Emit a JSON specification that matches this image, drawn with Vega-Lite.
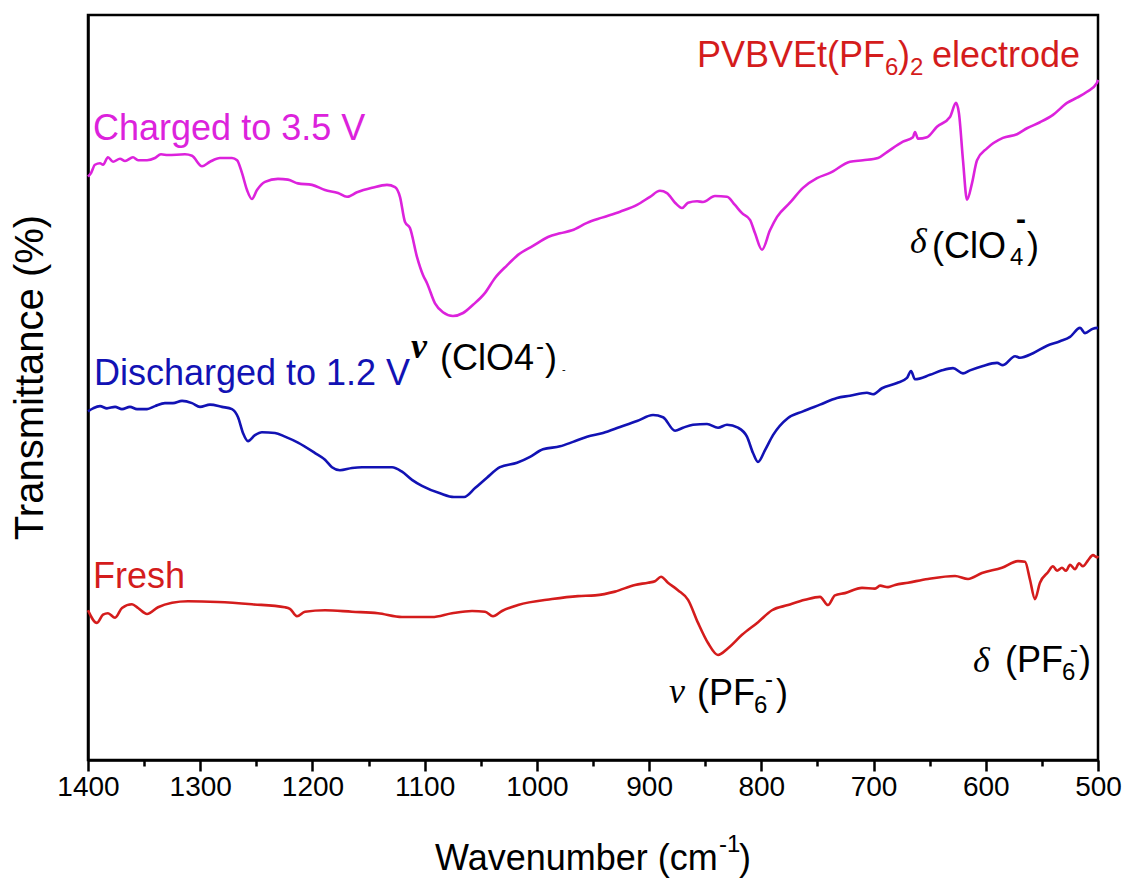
{
  "$schema": "https://vega.github.io/schema/vega-lite/v6.json",
  "width": 1010,
  "height": 745,
  "autosize": {"type": "none"},
  "padding": {"left": 88, "top": 15, "right": 30, "bottom": 126},
  "background": "white",
  "config": {
    "view": {"stroke": "black", "strokeWidth": 2.5},
    "font": "Liberation Sans"
  },
  "datasets": {
    "spectra": [
      {"series": "Charged", "wn": 1400.0, "T": 78.3},
      {"series": "Charged", "wn": 1397.3, "T": 78.8},
      {"series": "Charged", "wn": 1393.8, "T": 79.9},
      {"series": "Charged", "wn": 1389.3, "T": 80.1},
      {"series": "Charged", "wn": 1386.6, "T": 79.9},
      {"series": "Charged", "wn": 1382.2, "T": 80.9},
      {"series": "Charged", "wn": 1377.7, "T": 80.3},
      {"series": "Charged", "wn": 1371.5, "T": 80.7},
      {"series": "Charged", "wn": 1367.0, "T": 80.4},
      {"series": "Charged", "wn": 1359.9, "T": 80.9},
      {"series": "Charged", "wn": 1355.4, "T": 80.5},
      {"series": "Charged", "wn": 1347.4, "T": 80.5},
      {"series": "Charged", "wn": 1340.3, "T": 80.8},
      {"series": "Charged", "wn": 1335.0, "T": 81.3},
      {"series": "Charged", "wn": 1328.7, "T": 81.2},
      {"series": "Charged", "wn": 1313.6, "T": 81.3},
      {"series": "Charged", "wn": 1307.3, "T": 81.1},
      {"series": "Charged", "wn": 1298.4, "T": 79.7},
      {"series": "Charged", "wn": 1291.3, "T": 80.3},
      {"series": "Charged", "wn": 1282.4, "T": 80.8},
      {"series": "Charged", "wn": 1271.7, "T": 80.8},
      {"series": "Charged", "wn": 1267.2, "T": 80.5},
      {"series": "Charged", "wn": 1262.8, "T": 78.8},
      {"series": "Charged", "wn": 1258.3, "T": 76.5},
      {"series": "Charged", "wn": 1253.9, "T": 75.3},
      {"series": "Charged", "wn": 1249.4, "T": 76.5},
      {"series": "Charged", "wn": 1242.3, "T": 77.6},
      {"series": "Charged", "wn": 1230.7, "T": 78.0},
      {"series": "Charged", "wn": 1221.8, "T": 77.9},
      {"series": "Charged", "wn": 1212.9, "T": 77.4},
      {"series": "Charged", "wn": 1200.4, "T": 77.2},
      {"series": "Charged", "wn": 1188.8, "T": 76.5},
      {"series": "Charged", "wn": 1177.2, "T": 76.1},
      {"series": "Charged", "wn": 1169.2, "T": 75.6},
      {"series": "Charged", "wn": 1160.3, "T": 76.2},
      {"series": "Charged", "wn": 1146.9, "T": 76.8},
      {"series": "Charged", "wn": 1133.6, "T": 77.2},
      {"series": "Charged", "wn": 1126.4, "T": 76.9},
      {"series": "Charged", "wn": 1122.0, "T": 75.6},
      {"series": "Charged", "wn": 1117.5, "T": 72.2},
      {"series": "Charged", "wn": 1113.1, "T": 71.4},
      {"series": "Charged", "wn": 1106.8, "T": 67.5},
      {"series": "Charged", "wn": 1101.5, "T": 65.1},
      {"series": "Charged", "wn": 1097.9, "T": 64.0},
      {"series": "Charged", "wn": 1090.8, "T": 61.3},
      {"series": "Charged", "wn": 1083.7, "T": 60.1},
      {"series": "Charged", "wn": 1074.8, "T": 59.6},
      {"series": "Charged", "wn": 1065.8, "T": 60.0},
      {"series": "Charged", "wn": 1056.9, "T": 61.1},
      {"series": "Charged", "wn": 1046.2, "T": 62.7},
      {"series": "Charged", "wn": 1037.3, "T": 64.7},
      {"series": "Charged", "wn": 1026.6, "T": 66.4},
      {"series": "Charged", "wn": 1016.8, "T": 67.8},
      {"series": "Charged", "wn": 1003.5, "T": 69.0},
      {"series": "Charged", "wn": 990.1, "T": 70.2},
      {"series": "Charged", "wn": 979.4, "T": 70.7},
      {"series": "Charged", "wn": 968.7, "T": 71.1},
      {"series": "Charged", "wn": 955.3, "T": 72.1},
      {"series": "Charged", "wn": 942.0, "T": 72.8},
      {"series": "Charged", "wn": 925.9, "T": 73.6},
      {"series": "Charged", "wn": 910.8, "T": 74.5},
      {"series": "Charged", "wn": 899.2, "T": 75.6},
      {"series": "Charged", "wn": 890.3, "T": 76.4},
      {"series": "Charged", "wn": 884.1, "T": 76.1},
      {"series": "Charged", "wn": 876.9, "T": 74.8},
      {"series": "Charged", "wn": 870.7, "T": 74.1},
      {"series": "Charged", "wn": 865.3, "T": 74.8},
      {"series": "Charged", "wn": 857.3, "T": 75.0},
      {"series": "Charged", "wn": 852.0, "T": 74.9},
      {"series": "Charged", "wn": 841.3, "T": 75.7},
      {"series": "Charged", "wn": 830.6, "T": 75.6},
      {"series": "Charged", "wn": 823.5, "T": 74.5},
      {"series": "Charged", "wn": 817.2, "T": 73.4},
      {"series": "Charged", "wn": 810.1, "T": 72.5},
      {"series": "Charged", "wn": 805.6, "T": 70.7},
      {"series": "Charged", "wn": 799.4, "T": 68.5},
      {"series": "Charged", "wn": 792.3, "T": 71.1},
      {"series": "Charged", "wn": 786.0, "T": 72.9},
      {"series": "Charged", "wn": 774.5, "T": 74.8},
      {"series": "Charged", "wn": 762.9, "T": 76.8},
      {"series": "Charged", "wn": 750.4, "T": 78.1},
      {"series": "Charged", "wn": 738.8, "T": 78.8},
      {"series": "Charged", "wn": 721.0, "T": 80.3},
      {"series": "Charged", "wn": 709.4, "T": 80.5},
      {"series": "Charged", "wn": 696.0, "T": 80.8},
      {"series": "Charged", "wn": 688.0, "T": 81.6},
      {"series": "Charged", "wn": 673.8, "T": 83.0},
      {"series": "Charged", "wn": 664.9, "T": 83.6},
      {"series": "Charged", "wn": 663.1, "T": 84.3},
      {"series": "Charged", "wn": 660.4, "T": 83.4},
      {"series": "Charged", "wn": 652.4, "T": 83.6},
      {"series": "Charged", "wn": 643.5, "T": 85.0},
      {"series": "Charged", "wn": 631.9, "T": 86.3},
      {"series": "Charged", "wn": 626.5, "T": 88.2},
      {"series": "Charged", "wn": 623.9, "T": 86.8},
      {"series": "Charged", "wn": 620.3, "T": 80.5},
      {"series": "Charged", "wn": 616.7, "T": 75.2},
      {"series": "Charged", "wn": 612.3, "T": 77.4},
      {"series": "Charged", "wn": 607.8, "T": 80.5},
      {"series": "Charged", "wn": 598.9, "T": 82.1},
      {"series": "Charged", "wn": 584.7, "T": 83.5},
      {"series": "Charged", "wn": 572.2, "T": 84.0},
      {"series": "Charged", "wn": 563.3, "T": 84.8},
      {"series": "Charged", "wn": 551.7, "T": 85.6},
      {"series": "Charged", "wn": 540.1, "T": 86.6},
      {"series": "Charged", "wn": 527.6, "T": 88.2},
      {"series": "Charged", "wn": 518.7, "T": 88.9},
      {"series": "Charged", "wn": 509.8, "T": 89.7},
      {"series": "Charged", "wn": 500.9, "T": 90.9},
      {"series": "Charged", "wn": 500.0, "T": 91.3},

      {"series": "Discharged", "wn": 1400.0, "T": 46.8},
      {"series": "Discharged", "wn": 1395.5, "T": 47.2},
      {"series": "Discharged", "wn": 1389.3, "T": 47.5},
      {"series": "Discharged", "wn": 1383.1, "T": 47.2},
      {"series": "Discharged", "wn": 1375.9, "T": 47.4},
      {"series": "Discharged", "wn": 1369.7, "T": 47.1},
      {"series": "Discharged", "wn": 1362.6, "T": 47.4},
      {"series": "Discharged", "wn": 1356.3, "T": 47.1},
      {"series": "Discharged", "wn": 1347.4, "T": 47.1},
      {"series": "Discharged", "wn": 1340.3, "T": 47.5},
      {"series": "Discharged", "wn": 1331.4, "T": 47.9},
      {"series": "Discharged", "wn": 1324.3, "T": 47.9},
      {"series": "Discharged", "wn": 1316.2, "T": 48.2},
      {"series": "Discharged", "wn": 1307.3, "T": 47.9},
      {"series": "Discharged", "wn": 1300.2, "T": 47.4},
      {"series": "Discharged", "wn": 1291.3, "T": 47.7},
      {"series": "Discharged", "wn": 1280.6, "T": 47.4},
      {"series": "Discharged", "wn": 1271.7, "T": 47.1},
      {"series": "Discharged", "wn": 1266.3, "T": 46.0},
      {"series": "Discharged", "wn": 1261.9, "T": 43.9},
      {"series": "Discharged", "wn": 1257.4, "T": 42.8},
      {"series": "Discharged", "wn": 1251.2, "T": 43.6},
      {"series": "Discharged", "wn": 1245.0, "T": 44.0},
      {"series": "Discharged", "wn": 1233.4, "T": 43.9},
      {"series": "Discharged", "wn": 1224.5, "T": 43.4},
      {"series": "Discharged", "wn": 1212.9, "T": 42.6},
      {"series": "Discharged", "wn": 1197.7, "T": 41.2},
      {"series": "Discharged", "wn": 1188.8, "T": 40.3},
      {"series": "Discharged", "wn": 1182.6, "T": 39.3},
      {"series": "Discharged", "wn": 1175.5, "T": 38.9},
      {"series": "Discharged", "wn": 1164.8, "T": 39.2},
      {"series": "Discharged", "wn": 1155.8, "T": 39.3},
      {"series": "Discharged", "wn": 1144.3, "T": 39.3},
      {"series": "Discharged", "wn": 1129.1, "T": 39.3},
      {"series": "Discharged", "wn": 1120.2, "T": 38.7},
      {"series": "Discharged", "wn": 1111.3, "T": 37.6},
      {"series": "Discharged", "wn": 1102.4, "T": 36.8},
      {"series": "Discharged", "wn": 1086.3, "T": 35.8},
      {"series": "Discharged", "wn": 1073.9, "T": 35.3},
      {"series": "Discharged", "wn": 1064.9, "T": 35.3},
      {"series": "Discharged", "wn": 1055.1, "T": 36.5},
      {"series": "Discharged", "wn": 1044.5, "T": 37.9},
      {"series": "Discharged", "wn": 1032.9, "T": 39.3},
      {"series": "Discharged", "wn": 1017.7, "T": 39.9},
      {"series": "Discharged", "wn": 1006.1, "T": 40.7},
      {"series": "Discharged", "wn": 994.6, "T": 41.7},
      {"series": "Discharged", "wn": 979.4, "T": 42.1},
      {"series": "Discharged", "wn": 967.8, "T": 42.7},
      {"series": "Discharged", "wn": 955.3, "T": 43.4},
      {"series": "Discharged", "wn": 941.1, "T": 43.9},
      {"series": "Discharged", "wn": 925.9, "T": 44.7},
      {"series": "Discharged", "wn": 910.8, "T": 45.5},
      {"series": "Discharged", "wn": 896.5, "T": 46.3},
      {"series": "Discharged", "wn": 887.6, "T": 46.0},
      {"series": "Discharged", "wn": 876.9, "T": 44.2},
      {"series": "Discharged", "wn": 869.8, "T": 44.6},
      {"series": "Discharged", "wn": 860.9, "T": 45.0},
      {"series": "Discharged", "wn": 848.4, "T": 45.1},
      {"series": "Discharged", "wn": 838.6, "T": 44.6},
      {"series": "Discharged", "wn": 830.6, "T": 45.0},
      {"series": "Discharged", "wn": 820.8, "T": 44.6},
      {"series": "Discharged", "wn": 812.8, "T": 43.4},
      {"series": "Discharged", "wn": 807.4, "T": 41.2},
      {"series": "Discharged", "wn": 803.0, "T": 40.0},
      {"series": "Discharged", "wn": 796.7, "T": 41.6},
      {"series": "Discharged", "wn": 789.6, "T": 43.6},
      {"series": "Discharged", "wn": 776.2, "T": 45.9},
      {"series": "Discharged", "wn": 762.9, "T": 46.8},
      {"series": "Discharged", "wn": 747.7, "T": 47.7},
      {"series": "Discharged", "wn": 732.6, "T": 48.6},
      {"series": "Discharged", "wn": 721.0, "T": 48.9},
      {"series": "Discharged", "wn": 705.9, "T": 49.3},
      {"series": "Discharged", "wn": 700.5, "T": 49.1},
      {"series": "Discharged", "wn": 692.5, "T": 49.9},
      {"series": "Discharged", "wn": 679.1, "T": 50.6},
      {"series": "Discharged", "wn": 670.2, "T": 51.3},
      {"series": "Discharged", "wn": 666.6, "T": 52.2},
      {"series": "Discharged", "wn": 663.1, "T": 51.1},
      {"series": "Discharged", "wn": 649.7, "T": 51.7},
      {"series": "Discharged", "wn": 639.0, "T": 52.3},
      {"series": "Discharged", "wn": 629.2, "T": 52.6},
      {"series": "Discharged", "wn": 620.3, "T": 51.9},
      {"series": "Discharged", "wn": 614.1, "T": 52.3},
      {"series": "Discharged", "wn": 602.5, "T": 52.9},
      {"series": "Discharged", "wn": 590.0, "T": 53.3},
      {"series": "Discharged", "wn": 584.7, "T": 53.0},
      {"series": "Discharged", "wn": 573.9, "T": 54.2},
      {"series": "Discharged", "wn": 569.5, "T": 54.0},
      {"series": "Discharged", "wn": 557.9, "T": 54.6},
      {"series": "Discharged", "wn": 545.4, "T": 55.6},
      {"series": "Discharged", "wn": 533.9, "T": 56.2},
      {"series": "Discharged", "wn": 524.9, "T": 56.8},
      {"series": "Discharged", "wn": 516.0, "T": 58.0},
      {"series": "Discharged", "wn": 511.6, "T": 57.3},
      {"series": "Discharged", "wn": 504.5, "T": 57.9},
      {"series": "Discharged", "wn": 500.0, "T": 58.0},

      {"series": "Fresh", "wn": 1400.0, "T": 20.1},
      {"series": "Fresh", "wn": 1392.0, "T": 18.4},
      {"series": "Fresh", "wn": 1386.6, "T": 19.5},
      {"series": "Fresh", "wn": 1382.2, "T": 19.7},
      {"series": "Fresh", "wn": 1375.9, "T": 19.1},
      {"series": "Fresh", "wn": 1369.7, "T": 20.4},
      {"series": "Fresh", "wn": 1360.8, "T": 20.9},
      {"series": "Fresh", "wn": 1355.4, "T": 20.4},
      {"series": "Fresh", "wn": 1347.4, "T": 19.6},
      {"series": "Fresh", "wn": 1337.6, "T": 20.5},
      {"series": "Fresh", "wn": 1325.1, "T": 21.1},
      {"series": "Fresh", "wn": 1310.9, "T": 21.3},
      {"series": "Fresh", "wn": 1284.2, "T": 21.2},
      {"series": "Fresh", "wn": 1253.9, "T": 20.9},
      {"series": "Fresh", "wn": 1224.5, "T": 20.5},
      {"series": "Fresh", "wn": 1220.1, "T": 20.3},
      {"series": "Fresh", "wn": 1213.8, "T": 19.3},
      {"series": "Fresh", "wn": 1206.6, "T": 19.9},
      {"series": "Fresh", "wn": 1188.8, "T": 20.1},
      {"series": "Fresh", "wn": 1164.8, "T": 19.9},
      {"series": "Fresh", "wn": 1141.6, "T": 19.7},
      {"series": "Fresh", "wn": 1120.2, "T": 19.2},
      {"series": "Fresh", "wn": 1093.5, "T": 19.2},
      {"series": "Fresh", "wn": 1075.6, "T": 19.7},
      {"series": "Fresh", "wn": 1057.8, "T": 20.0},
      {"series": "Fresh", "wn": 1046.2, "T": 19.9},
      {"series": "Fresh", "wn": 1039.1, "T": 19.3},
      {"series": "Fresh", "wn": 1031.1, "T": 20.0},
      {"series": "Fresh", "wn": 1016.8, "T": 20.8},
      {"series": "Fresh", "wn": 986.5, "T": 21.6},
      {"series": "Fresh", "wn": 963.4, "T": 22.0},
      {"series": "Fresh", "wn": 948.2, "T": 22.1},
      {"series": "Fresh", "wn": 930.4, "T": 22.6},
      {"series": "Fresh", "wn": 912.6, "T": 23.5},
      {"series": "Fresh", "wn": 901.0, "T": 23.8},
      {"series": "Fresh", "wn": 894.8, "T": 24.0},
      {"series": "Fresh", "wn": 889.4, "T": 24.6},
      {"series": "Fresh", "wn": 883.2, "T": 23.8},
      {"series": "Fresh", "wn": 874.3, "T": 22.8},
      {"series": "Fresh", "wn": 865.3, "T": 21.5},
      {"series": "Fresh", "wn": 856.4, "T": 18.4},
      {"series": "Fresh", "wn": 847.5, "T": 15.7},
      {"series": "Fresh", "wn": 838.6, "T": 14.1},
      {"series": "Fresh", "wn": 829.7, "T": 15.0},
      {"series": "Fresh", "wn": 817.2, "T": 16.8},
      {"series": "Fresh", "wn": 802.9, "T": 18.5},
      {"series": "Fresh", "wn": 790.5, "T": 20.1},
      {"series": "Fresh", "wn": 776.2, "T": 20.8},
      {"series": "Fresh", "wn": 761.1, "T": 21.5},
      {"series": "Fresh", "wn": 747.7, "T": 21.9},
      {"series": "Fresh", "wn": 740.6, "T": 20.8},
      {"series": "Fresh", "wn": 734.4, "T": 22.1},
      {"series": "Fresh", "wn": 725.5, "T": 22.4},
      {"series": "Fresh", "wn": 710.3, "T": 23.1},
      {"series": "Fresh", "wn": 698.7, "T": 23.0},
      {"series": "Fresh", "wn": 694.2, "T": 23.4},
      {"series": "Fresh", "wn": 687.1, "T": 23.2},
      {"series": "Fresh", "wn": 680.9, "T": 23.5},
      {"series": "Fresh", "wn": 669.3, "T": 23.8},
      {"series": "Fresh", "wn": 651.5, "T": 24.3},
      {"series": "Fresh", "wn": 627.4, "T": 24.7},
      {"series": "Fresh", "wn": 615.8, "T": 24.3},
      {"series": "Fresh", "wn": 603.4, "T": 25.1},
      {"series": "Fresh", "wn": 585.6, "T": 25.8},
      {"series": "Fresh", "wn": 571.3, "T": 26.7},
      {"series": "Fresh", "wn": 565.0, "T": 26.6},
      {"series": "Fresh", "wn": 560.6, "T": 24.2},
      {"series": "Fresh", "wn": 556.2, "T": 21.6},
      {"series": "Fresh", "wn": 551.7, "T": 23.8},
      {"series": "Fresh", "wn": 544.6, "T": 25.2},
      {"series": "Fresh", "wn": 540.1, "T": 26.0},
      {"series": "Fresh", "wn": 536.5, "T": 25.4},
      {"series": "Fresh", "wn": 532.1, "T": 25.8},
      {"series": "Fresh", "wn": 528.5, "T": 25.4},
      {"series": "Fresh", "wn": 524.9, "T": 26.2},
      {"series": "Fresh", "wn": 520.5, "T": 25.6},
      {"series": "Fresh", "wn": 516.9, "T": 26.4},
      {"series": "Fresh", "wn": 513.4, "T": 26.0},
      {"series": "Fresh", "wn": 508.9, "T": 26.8},
      {"series": "Fresh", "wn": 504.5, "T": 27.5},
      {"series": "Fresh", "wn": 500.9, "T": 27.2},
      {"series": "Fresh", "wn": 500.0, "T": 27.4}
    ],
    "notes": [
      {"text": "Charged to 3.5 V", "series": "Charged", "kind": "main", "wn": 1395.5, "T": 83.2},
      {"text": "Discharged to 1.2 V", "series": "Discharged", "kind": "main", "wn": 1394.7, "T": 50.3},
      {"text": "Fresh", "series": "Fresh", "kind": "main", "wn": 1395.5, "T": 23.1},
      {"text": "PVBVEt(PF", "series": "heading", "kind": "main", "wn": 857.3, "T": 93.0},
      {"text": "6", "series": "heading", "kind": "script", "wn": 689.8, "T": 91.9},
      {"text": ")", "series": "heading", "kind": "main", "wn": 678.2, "T": 93.0},
      {"text": "2", "series": "heading", "kind": "script", "wn": 667.5, "T": 91.9},
      {"text": "electrode", "series": "heading", "kind": "main", "wn": 647.9, "T": 93.0},

      {"text": "ν", "series": "note", "kind": "greekBold", "wn": 1112.2, "T": 54.0},
      {"text": "(ClO4", "series": "note", "kind": "main", "wn": 1086.3, "T": 52.3},
      {"text": "-", "series": "note", "kind": "script", "wn": 1000.8, "T": 54.5},
      {"text": ")", "series": "note", "kind": "main", "wn": 992.8, "T": 52.3},
      {"text": "-", "series": "note", "kind": "tiny", "wn": 977.6, "T": 51.9},

      {"text": "δ", "series": "note", "kind": "greek", "wn": 667.5, "T": 68.1},
      {"text": "(ClO", "series": "note", "kind": "main", "wn": 647.9, "T": 67.4},
      {"text": "4", "series": "note", "kind": "script", "wn": 578.4, "T": 66.4},
      {"text": "-", "series": "note", "kind": "boldScript", "wn": 573.1, "T": 71.3},
      {"text": ")", "series": "note", "kind": "main", "wn": 563.3, "T": 67.4},

      {"text": "ν", "series": "note", "kind": "greek", "wn": 882.3, "T": 7.65},
      {"text": "(PF", "series": "note", "kind": "main", "wn": 857.3, "T": 7.38},
      {"text": "6", "series": "note", "kind": "script", "wn": 806.5, "T": 6.31},
      {"text": "-", "series": "note", "kind": "script", "wn": 796.7, "T": 9.8},
      {"text": ")", "series": "note", "kind": "main", "wn": 786.9, "T": 7.38},

      {"text": "δ", "series": "note", "kind": "greek", "wn": 611.4, "T": 11.8},
      {"text": "(PF", "series": "note", "kind": "main", "wn": 582.9, "T": 11.8},
      {"text": "6", "series": "note", "kind": "script", "wn": 532.1, "T": 10.7},
      {"text": "-", "series": "note", "kind": "script", "wn": 524.9, "T": 13.8},
      {"text": ")", "series": "note", "kind": "main", "wn": 516.9, "T": 11.8},

      {"text": "Wavenumber (cm", "series": "note", "kind": "main", "wn": 1090.8, "T": -14.8},
      {"text": "-1", "series": "note", "kind": "script", "wn": 837.7, "T": -12.3},
      {"text": ")", "series": "note", "kind": "main", "wn": 819.9, "T": -14.8}
    ]
  },
  "encoding": {
    "x": {
      "field": "wn",
      "type": "quantitative",
      "scale": {"domain": [500, 1400], "reverse": true, "nice": false, "zero": false},
      "axis": {
        "values": [1400, 1350, 1300, 1250, 1200, 1150, 1100, 1050, 1000, 950, 900, 850, 800, 750, 700, 650, 600, 550, 500],
        "format": "d",
        "labelExpr": "datum.value % 100 === 0 ? datum.label : ''",
        "tickSize": {"condition": {"test": "datum.value % 100 === 0", "value": 11}, "value": 6},
        "tickWidth": 2.5,
        "tickColor": "black",
        "domainColor": "black",
        "domainWidth": 2.5,
        "labelFont": "Liberation Sans",
        "labelFontSize": 28,
        "labelColor": "black",
        "labelPadding": 2,
        "labelFlush": false,
        "labelOverlap": false,
        "grid": false,
        "title": null
      }
    },
    "y": {
      "field": "T",
      "type": "quantitative",
      "scale": {"domain": [0, 100], "nice": false, "zero": false},
      "axis": {
        "ticks": false,
        "labels": false,
        "grid": false,
        "domainColor": "black",
        "domainWidth": 2.5,
        "title": "Transmittance (%)",
        "titleFont": "Liberation Sans",
        "titleFontSize": 40,
        "titleFontWeight": "normal",
        "titleColor": "black",
        "titleX": -58,
        "titleY": 362,
        "titleAngle": -90,
        "titleAlign": "center",
        "titleBaseline": "middle"
      }
    }
  },
  "layer": [
    {
      "data": {"name": "spectra"},
      "mark": {"type": "line", "strokeWidth": 2.6, "strokeJoin": "round", "interpolate": "monotone"},
      "encoding": {
        "color": {
          "field": "series",
          "type": "nominal",
          "scale": {"domain": ["Charged", "Discharged", "Fresh", "heading", "note"], "range": ["#DC22DC", "#1212B4", "#D41C1C", "#D41C1C", "#000000"]},
          "legend": null
        }
      }
    },
    {
      "data": {"name": "notes"},
      "transform": [{"filter": "datum.kind === 'main'"}],
      "mark": {"type": "text", "align": "left", "baseline": "alphabetic", "font": "Liberation Sans", "fontSize": 36},
      "encoding": {
        "text": {"field": "text"},
        "color": {"field": "series", "type": "nominal", "legend": null}
      }
    },
    {
      "data": {"name": "notes"},
      "transform": [{"filter": "datum.kind === 'script'"}],
      "mark": {"type": "text", "align": "left", "baseline": "alphabetic", "font": "Liberation Sans", "fontSize": 24},
      "encoding": {
        "text": {"field": "text"},
        "color": {"field": "series", "type": "nominal", "legend": null}
      }
    },
    {
      "data": {"name": "notes"},
      "transform": [{"filter": "datum.kind === 'boldScript'"}],
      "mark": {"type": "text", "align": "left", "baseline": "alphabetic", "font": "Liberation Sans", "fontSize": 30, "fontWeight": "bold"},
      "encoding": {
        "text": {"field": "text"},
        "color": {"field": "series", "type": "nominal", "legend": null}
      }
    },
    {
      "data": {"name": "notes"},
      "transform": [{"filter": "datum.kind === 'tiny'"}],
      "mark": {"type": "text", "align": "left", "baseline": "alphabetic", "font": "Liberation Sans", "fontSize": 11},
      "encoding": {
        "text": {"field": "text"},
        "color": {"field": "series", "type": "nominal", "legend": null}
      }
    },
    {
      "data": {"name": "notes"},
      "transform": [{"filter": "datum.kind === 'greek'"}],
      "mark": {"type": "text", "align": "left", "baseline": "alphabetic", "font": "Liberation Serif", "fontStyle": "italic", "fontSize": 36},
      "encoding": {
        "text": {"field": "text"},
        "color": {"field": "series", "type": "nominal", "legend": null}
      }
    },
    {
      "data": {"name": "notes"},
      "transform": [{"filter": "datum.kind === 'greekBold'"}],
      "mark": {"type": "text", "align": "left", "baseline": "alphabetic", "font": "Liberation Serif", "fontStyle": "italic", "fontWeight": "bold", "fontSize": 36},
      "encoding": {
        "text": {"field": "text"},
        "color": {"field": "series", "type": "nominal", "legend": null}
      }
    }
  ]
}
